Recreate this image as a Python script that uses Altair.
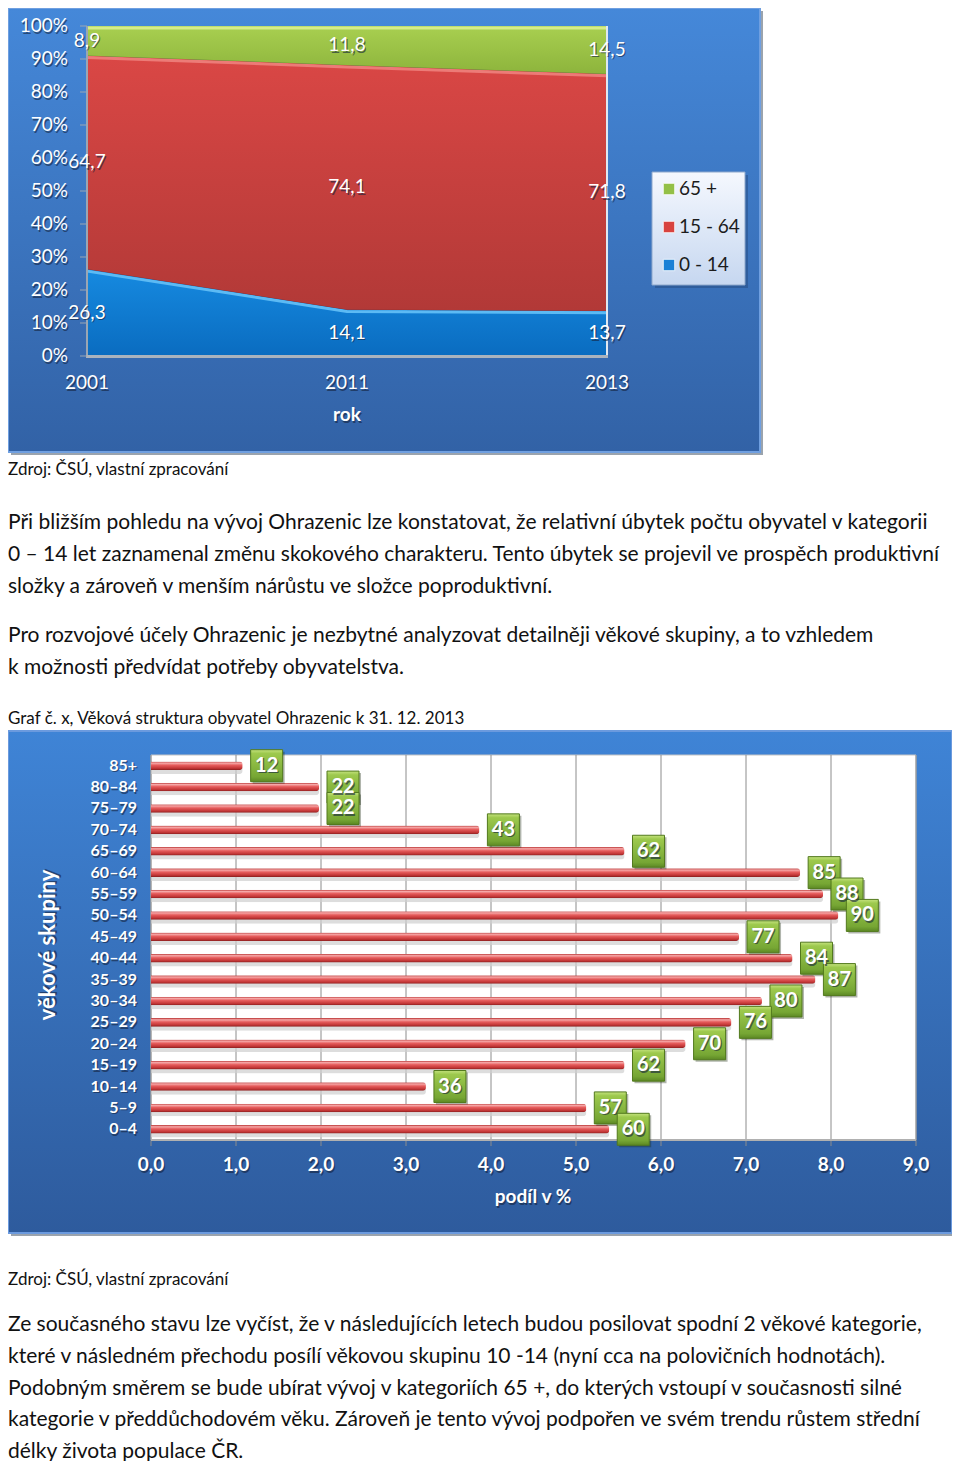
import altair as alt
import pandas as pd

# ---------------- data: graf 1 (struktura obyvatel v %) ----------------
roky = ["2001", "2011", "2013"]
skupiny = ["0 - 14", "15 - 64", "65 +"]
podil_0_14 = [26.3, 14.1, 13.7]
podil_15_64 = [64.7, 74.1, 71.8]
podil_65_plus = [8.9, 11.8, 14.5]
osa_y1 = [0, 10, 20, 30, 40, 50, 60, 70, 80, 90, 100]
osa_y1_popisky = ["0%", "10%", "20%", "30%", "40%", "50%", "60%", "70%", "80%", "90%", "100%"]
legenda1 = ["65 +", "15 - 64", "0 - 14"]

# ---------------- data: graf 2 (věková struktura k 31. 12. 2013) ----------------
vekove_skupiny = ["85+", "80–84", "75–79", "70–74", "65–69", "60–64", "55–59", "50–54", "45–49",
                  "40–44", "35–39", "30–34", "25–29", "20–24", "15–19", "10–14", "5–9", "0–4"]
pocty_obyvatel = [12, 22, 22, 43, 62, 85, 88, 90, 77, 84, 87, 80, 76, 70, 62, 36, 57, 60]
osa_x2 = [0, 1, 2, 3, 4, 5, 6, 7, 8, 9]
osa_x2_popisky = ["0,0", "1,0", "2,0", "3,0", "4,0", "5,0", "6,0", "7,0", "8,0", "9,0"]

# ---------------- text ----------------
zdroj = "Zdroj: ČSÚ, vlastní zpracování"
odstavec1 = [
    "Při bližším pohledu na vývoj Ohrazenic lze konstatovat, že relativní úbytek počtu obyvatel v kategorii",
    "0 – 14 let zaznamenal změnu skokového charakteru. Tento úbytek se projevil ve prospěch produktivní",
    "složky a zároveň v menším nárůstu ve složce poproduktivní.",
]
odstavec2 = [
    "Pro rozvojové účely Ohrazenic je nezbytné analyzovat detailněji věkové skupiny, a to vzhledem",
    "k možnosti předvídat potřeby obyvatelstva.",
]
nadpis_grafu2 = "Graf č. x, Věková struktura obyvatel Ohrazenic k 31. 12. 2013"
odstavec3 = [
    "Ze současného stavu lze vyčíst, že v následujících letech budou posilovat spodní 2 věkové kategorie,",
    "které v následném přechodu posílí věkovou skupinu 10 -14 (nyní cca na polovičních hodnotách).",
    "Podobným směrem se bude ubírat vývoj v kategoriích 65 +, do kterých vstoupí v současnosti silné",
    "kategorie v předdůchodovém věku. Zároveň je tento vývoj podpořen ve svém trendu růstem střední",
    "délky života populace ČR.",
]

# ---------------- helpers ----------------
FONT = "Lato"
SHADOW = "#15233d"
W, H = 944, 1453
ONE = alt.Data(values=[{"k": 0}])
layers = []


def grad(stops):
    return alt.LinearGradient(
        gradient="linear",
        stops=[alt.GradientStop(offset=o, color=c) for o, c in stops],
        x1=0, x2=0, y1=0, y2=1,
    )


def rect(x1, y1, x2, y2, **kw):
    return alt.Chart(ONE).mark_rect(**kw).encode(
        x=alt.value(x1), x2=alt.value(x2), y=alt.value(y1), y2=alt.value(y2))


def static_text(s, x, y, size, color="#111111", weight="normal", align="left",
                baseline="alphabetic", angle=0, shadow=False):
    out = []
    kw = dict(text=s, font=FONT, fontSize=size, fontWeight=weight, align=align,
              baseline=baseline, angle=angle)
    if shadow:
        out.append(alt.Chart(ONE).mark_text(color=SHADOW, opacity=0.6, dx=1.2, dy=1.5, **kw)
                   .encode(x=alt.value(x), y=alt.value(y)))
    out.append(alt.Chart(ONE).mark_text(color=color, **kw).encode(x=alt.value(x), y=alt.value(y)))
    return out


def shadowed_text(chart, enc, dx=0, dy=0, color="white", **kw):
    return [
        chart.mark_text(color=SHADOW, opacity=0.6, dx=dx + 1.2, dy=dy + 1.5, font=FONT, **kw).encode(**enc),
        chart.mark_text(color=color, dx=dx, dy=dy, font=FONT, **kw).encode(**enc),
    ]


# ======================= GRAF 1 =======================
layers.append(rect(3, 3, 755, 447, fill="#9aa3ad"))
layers.append(rect(0, 0, 752, 444, fill=grad([(0, "#4588d9"), (1, "#3262a6")]),
                   stroke="#6f9fe0", strokeWidth=2))

df1 = pd.DataFrame({
    "rok": roky * 3,
    "skupina": [s for s in skupiny for _ in roky],
    "podil": podil_0_14 + podil_15_64 + podil_65_plus,
})
df1["poradi"] = df1["skupina"].map({s: i for i, s in enumerate(skupiny)})
df1["popisek"] = df1["podil"].map(lambda v: f"{v:.1f}".replace(".", ","))

xs1 = alt.Scale(type="point", domain=roky, range=[79, 599], padding=0)
ys1 = alt.Scale(domain=[0, 1], range=[348, 18])
ys1p = alt.Scale(domain=[0, 100], range=[348, 18])
X1 = alt.X("rok:N", scale=xs1, axis=None)

stack1 = alt.Chart(df1).transform_stack(
    stack="podil", groupby=["rok"], as_=["y0", "y1"], offset="normalize",
    sort=[alt.SortField("poradi", order="ascending")])

area_fill = {
    "0 - 14": grad([(0, "#168ae0"), (1, "#0a6cc0")]),
    "15 - 64": grad([(0, "#da4745"), (1, "#b23937")]),
    "65 +": grad([(0, "#a8cf50"), (1, "#8db43c")]),
}
edge_light = {"0 - 14": "#5cbaf4", "15 - 64": "#ec7b77", "65 +": "#d6ec8a"}
edge_dark = {"0 - 14": "#8c2a28", "15 - 64": "#6b8a2a"}

for s in skupiny:
    one = stack1.transform_filter(alt.datum.skupina == s)
    layers.append(one.mark_area(fill=area_fill[s], interpolate="linear").encode(
        x=X1, y=alt.Y("y0:Q", scale=ys1, axis=None), y2="y1:Q"))
    layers.append(one.mark_line(color=edge_light[s], strokeWidth=3, yOffset=2).encode(
        x=X1, y=alt.Y("y1:Q", scale=ys1, axis=None)))
    if s in edge_dark:
        layers.append(one.mark_line(color=edge_dark[s], strokeWidth=1.5, yOffset=-0.5).encode(
            x=X1, y=alt.Y("y1:Q", scale=ys1, axis=None)))

# axes of graf 1
layers.append(rect(598, 18, 600, 348, fill="#dfe8f2"))
layers.append(rect(78, 18, 80, 350, fill="#9aa6b4"))
layers.append(rect(78, 347, 600, 350, fill="#aab3be"))
osy1 = pd.DataFrame({"v": osa_y1, "t": osa_y1_popisky})
layers.append(alt.Chart(osy1).mark_rule(color="#9aa6b4", strokeWidth=1).encode(
    x=alt.value(72), x2=alt.value(79), y=alt.Y("v:Q", scale=ys1p, axis=None)))
layers += shadowed_text(
    alt.Chart(osy1),
    dict(x=alt.value(60), y=alt.Y("v:Q", scale=ys1p, axis=None), text="t:N"),
    align="right", baseline="middle", fontSize=19)
layers += shadowed_text(
    alt.Chart(pd.DataFrame({"rok": roky})),
    dict(x=X1, y=alt.value(375), text="rok:N"),
    align="center", baseline="middle", fontSize=19)
layers += static_text("rok", 339, 407, 19, color="white", weight="bold", align="center",
                      baseline="middle", shadow=True)

# data labels
layers += shadowed_text(
    stack1.transform_calculate(mid="(datum.y0 + datum.y1) / 2"),
    dict(x=X1, y=alt.Y("mid:Q", scale=ys1, axis=None), text="popisek:N"),
    align="center", baseline="middle", fontSize=19)

# legend
layers.append(rect(647, 167, 740, 280, fill="#23467a", opacity=0.45))
layers.append(rect(644, 164, 737, 277, fill=grad([(0, "#f5f8fe"), (1, "#c6d7f0")]),
                   stroke="#8ea8cc", strokeWidth=1))
leg = alt.Chart(pd.DataFrame({"skupina": legenda1}))
yl = alt.Scale(type="point", domain=legenda1, range=[181, 257], padding=0)
cl = alt.Scale(domain=legenda1, range=["#93c047", "#d8433f", "#1a80d6"])
layers.append(leg.mark_square(size=130, opacity=1, filled=True, stroke="#ffffff", strokeWidth=0.8).encode(
    x=alt.value(661), y=alt.Y("skupina:N", scale=yl, axis=None),
    color=alt.Color("skupina:N", scale=cl, legend=None)))
layers.append(leg.mark_text(align="left", baseline="middle", fontSize=19, font=FONT, color="#1c1c1c").encode(
    x=alt.value(671), y=alt.Y("skupina:N", scale=yl, axis=None), text="skupina:N"))

# ======================= TEXT (upper) =======================
BODY = 21
SMALL = 17
layers += static_text(zdroj, 0, 467, SMALL)
for i, line in enumerate(odstavec1):
    layers += static_text(line, 0, 521 + 32 * i, BODY)
for i, line in enumerate(odstavec2):
    layers += static_text(line, 0, 634 + 32 * i, BODY)
layers += static_text(nadpis_grafu2, 0, 716, SMALL)

# ======================= GRAF 2 =======================
layers.append(rect(3, 726, 947, 1228, fill="#9aa3ad"))
layers.append(rect(0, 723, 944, 1225, fill=grad([(0, "#3f84d6"), (1, "#2e5b9d")]),
                   stroke="#6b9ade", strokeWidth=2))
layers.append(rect(143, 747, 908, 1132, fill="#ffffff", stroke="#c4c4c4", strokeWidth=1))

xs2 = alt.Scale(domain=[0, 9], range=[143, 908], nice=False)
ys2 = alt.Scale(type="band", domain=vekove_skupiny, range=[747, 1132], paddingInner=0.6, paddingOuter=0.3)
X2 = alt.X("podil:Q", scale=xs2, axis=None)
Y2 = alt.Y("vek:N", scale=ys2, axis=None, sort=vekove_skupiny)

osx2 = pd.DataFrame({"t": osa_x2, "lab": osa_x2_popisky})
layers.append(alt.Chart(osx2).mark_rule(color="#8c8c8c", strokeWidth=1).encode(
    x=alt.X("t:Q", scale=xs2, axis=None), y=alt.value(747), y2=alt.value(1138)))
layers.append(rect(143, 1131, 908, 1133, fill="#b0b0b0"))

df2 = pd.DataFrame({"vek": vekove_skupiny, "pocet": pocty_obyvatel})
base2 = alt.Chart(df2).transform_joinaggregate(total="sum(pocet)").transform_calculate(
    podil="datum.pocet / datum.total * 100")

layers.append(base2.mark_bar(color="#cfcfcf", opacity=0.7, yOffset=4, cornerRadiusEnd=3).encode(x=X2, y=Y2))
layers.append(base2.mark_bar(
    fill=grad([(0, "#b83232"), (0.2, "#f6a8a8"), (0.45, "#e65c5c"), (0.8, "#c23636"), (1, "#8a1e1e")]),
    cornerRadiusEnd=3).encode(x=X2, y=Y2))

# value boxes
layers.append(base2.mark_square(size=1024, xOffset=26, yOffset=2, filled=True, color="#1c2c10", opacity=0.35).encode(x=X2, y=Y2))
layers.append(base2.mark_square(
    size=1024, xOffset=24, filled=True, opacity=1,
    fill=grad([(0, "#c4e27e"), (0.12, "#9dc94d"), (0.85, "#76a634"), (1, "#5c8824")]),
    stroke="#52791d", strokeWidth=1).encode(x=X2, y=Y2))
layers += shadowed_text(base2, dict(x=X2, y=Y2, text="pocet:Q"), dx=24,
                        align="center", baseline="middle", fontSize=20, fontWeight="bold")

# axes of graf 2
layers += shadowed_text(alt.Chart(df2), dict(x=alt.value(129), y=Y2, text="vek:N"),
                        align="right", baseline="middle", fontSize=16, fontWeight="bold")
layers += shadowed_text(alt.Chart(osx2), dict(x=alt.X("t:Q", scale=xs2, axis=None), y=alt.value(1157), text="lab:N"),
                        align="center", baseline="middle", fontSize=19, fontWeight="bold")
layers += static_text("podíl v %", 525, 1189, 19, color="white", weight="bold", align="center",
                      baseline="middle", shadow=True)
layers += static_text("věkové skupiny", 40, 937, 22, color="white", weight="bold", align="center",
                      baseline="middle", angle=270, shadow=True)

# ======================= TEXT (lower) =======================
layers += static_text(zdroj, 0, 1277, SMALL)
for i, line in enumerate(odstavec3):
    layers += static_text(line, 0, 1323 + 31.8 * i, BODY)

chart = alt.layer(*layers).resolve_scale(
    x="independent", y="independent", color="independent"
).properties(
    width=W, height=H, padding=0, background="white",
    autosize=alt.AutoSizeParams(type="none"),
).configure_view(stroke=None)

chart.save("out.html", embed_options={"renderer": "svg", "actions": False})
